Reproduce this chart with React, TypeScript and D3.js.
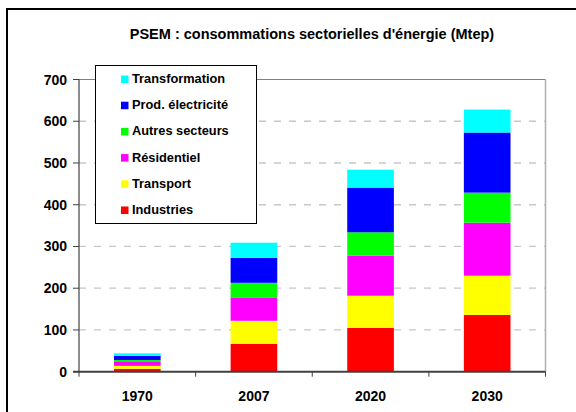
import React from 'react';
import * as d3 from 'd3';

// values in Mtep
const years = ['1970', '2007', '2020', '2030'];
const sectors = ['Industries', 'Transport', 'Résidentiel', 'Autres secteurs', 'Prod. électricité', 'Transformation'];
const colors = ['#ff0000', '#ffff00', '#ff00ff', '#00ff00', '#0000ff', '#00ffff'];
const industries = [7, 67, 105, 136];
const transport = [7, 55, 77, 94];
const residentiel = [11, 56, 96, 127];
const autres = [3, 35, 56, 72];
const prodElec = [10, 60, 107, 144];
const transformation = [6, 36, 43, 55];
const yTicks = [0, 100, 200, 300, 400, 500, 600, 700];

const series = [industries, transport, residentiel, autres, prodElec, transformation];

const font = 'Arial, "Liberation Sans", sans-serif';

const App = () => {
  const left = 79;
  const right = 545.5;
  const top = 79.5;
  const bottom = 371.7;

  const rows = years.map((y, i) => {
    const r: any = { year: y };
    sectors.forEach((s, j) => { r[s] = series[j][i]; });
    return r;
  });
  const stacked = d3.stack().keys(sectors)(rows);

  const x = d3.scaleBand().domain(years).range([left, right]).paddingInner(0.6).paddingOuter(0.3);
  const y = d3.scaleLinear().domain([0, 700]).range([bottom, top]);
  const step = x.step();

  return (
    <div style={{ position: 'fixed', left: 0, top: 0 }}>
      <svg width={576} height={412} style={{ display: 'block' }}>
        <rect x={0} y={0} width={576} height={412} fill="#fff" />
        <rect x={7} y={9} width={600} height={500} fill="none" stroke="#000" strokeWidth={2} />

        <text x={312} y={39} textAnchor="middle" fontFamily={font} fontWeight="bold" fontSize={14.5} fill="#000">
          PSEM : consommations sectorielles d'énergie (Mtep)
        </text>

        {/* grid */}
        {yTicks.slice(1, -1).map(t => (
          <line key={t} x1={left} x2={right} y1={y(t)} y2={y(t)} stroke="#c8c8c8" strokeWidth={1.3} strokeDasharray="7,8" />
        ))}
        <line x1={left} x2={right} y1={y(700)} y2={y(700)} stroke="#808080" strokeWidth={1} />
        <line x1={right} x2={right} y1={y(700)} y2={bottom} stroke="#b0b0b0" strokeWidth={1.5} />

        {/* bars */}
        {stacked.map((layer, j) => (
          <g key={sectors[j]} fill={colors[j]}>
            {layer.map((d, i) => (
              <rect key={i} x={x(years[i])} width={x.bandwidth()} y={y(d[1])} height={y(d[0]) - y(d[1])} />
            ))}
          </g>
        ))}

        {/* y axis */}
        <line x1={left} x2={left} y1={y(700)} y2={bottom + 1} stroke="#404040" strokeWidth={1.2} />
        {yTicks.map(t => (
          <g key={t}>
            <line x1={left - 6} x2={left} y1={y(t)} y2={y(t)} stroke="#404040" strokeWidth={1} />
            <text x={67} y={y(t) + 5} textAnchor="end" fontFamily={font} fontWeight="bold" fontSize={14} fill="#000">
              {t}
            </text>
          </g>
        ))}

        {/* x axis */}
        <line x1={left - 6} x2={right} y1={bottom} y2={bottom} stroke="#404040" strokeWidth={2} />
        {d3.range(years.length + 1).map(i => (
          <line key={i} x1={left + i * step} x2={left + i * step} y1={bottom} y2={bottom + 5} stroke="#404040" strokeWidth={1} />
        ))}
        {years.map(yr => (
          <text key={yr} x={(x(yr) as number) + x.bandwidth() / 2} y={401} textAnchor="middle" fontFamily={font} fontWeight="bold" fontSize={14} fill="#000">
            {yr}
          </text>
        ))}

        {/* legend */}
        <rect x={95.5} y={65.5} width={161} height={158} fill="#fff" stroke="#000" strokeWidth={1} />
        {sectors.slice().reverse().map((s, k) => {
          const j = sectors.length - 1 - k;
          const by = 83 + k * 26.2;
          return (
            <g key={s}>
              <rect x={121} y={by - 7.5} width={7.5} height={7.5} fill={colors[j]} />
              <text x={132} y={by} fontFamily={font} fontWeight="bold" fontSize={12.8} fill="#000">{s}</text>
            </g>
          );
        })}
      </svg>
    </div>
  );
};

export default App;
